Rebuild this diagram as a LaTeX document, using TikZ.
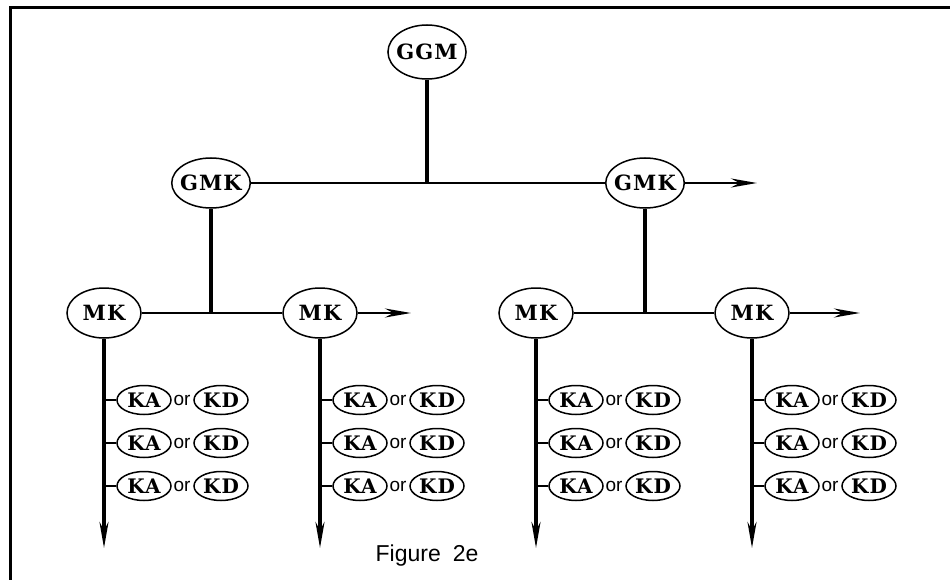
\documentclass[tikz,border=0pt]{standalone}
\usepackage{fontspec}
\newfontfamily\helv{Liberation Sans}
\newfontfamily\clar[LetterSpace=5]{DejaVu Serif}
\usetikzlibrary{arrows.meta,shapes.geometric}

\begin{document}
\begin{tikzpicture}[x=1pt,y=-1pt,>={Stealth[length=26pt,width=9pt]},
  unit/.style={ellipse,draw,line width=1.5pt,inner sep=-3pt,
    minimum width=76pt,minimum height=50pt,
    font=\clar\bfseries\fontsize{21}{21}\selectfont},
  leaf/.style={ellipse,draw,line width=1.5pt,inner sep=-3pt,
    minimum width=54pt,minimum height=29pt,
    font=\clar\bfseries\fontsize{20}{20}\selectfont},
  link/.style={line width=2.9pt},
  stem/.style={line width=3.3pt}]

\useasboundingbox (0,0) rectangle (950,580);

% Frame (only top and left edges lie on the page)
\draw[line width=3pt] (10,580) -- (10,8) -- (950,8);

% Top of the tree
\node[unit,minimum height=54pt] (ggm) at (427,52) {GGM};
\node[unit] (gmk1) at (211,183) {GMK};
\node[unit] (gmk2) at (645,183) {GMK};
\coordinate (gmkout) at (757,183);

\draw[link] (gmk1) -- (gmk2);
\draw[stem] (ggm) -- (ggm |- gmk1);
\draw[link,->] (gmk2) -- (gmkout);

% Columns
\foreach \i/\x in {1/104,2/320,3/536,4/752}{
    \node[unit,minimum width=74pt] (mk\i) at (\x,313) {MK};
    \coordinate (tail\i) at (\x,548);
    \draw[stem,->] (mk\i) -- (tail\i);
    \foreach \r/\y in {1/400,2/443,3/486}{
        \node[leaf] (ka\i\r) at (\x+40,\y) {KA};
        \node[font=\helv\fontsize{19}{19}\selectfont,inner sep=0pt]
            (or\i\r) at (\x+78,\y) {or};
        \node[leaf] (kd\i\r) at (\x+117,\y) {KD};
        \draw[link] (ka\i\r.west) -- (ka\i\r.west -| tail\i);
    }
}

% Middle level
\coordinate (mkout2) at (411,313);
\coordinate (mkout4) at (860,313);
\draw[link] (mk1) -- (mk2);
\draw[link] (mk3) -- (mk4);
\draw[link,->] (mk2) -- (mkout2);
\draw[link,->] (mk4) -- (mkout4);
\draw[stem] (gmk1) -- (gmk1 |- mk1);
\draw[stem] (gmk2) -- (gmk2 |- mk3);

% Caption
\node[font=\helv\fontsize{23}{23}\selectfont] (caption) at (427,556)
    {Figure\hspace{12pt}2e};

\end{tikzpicture}
\end{document}
